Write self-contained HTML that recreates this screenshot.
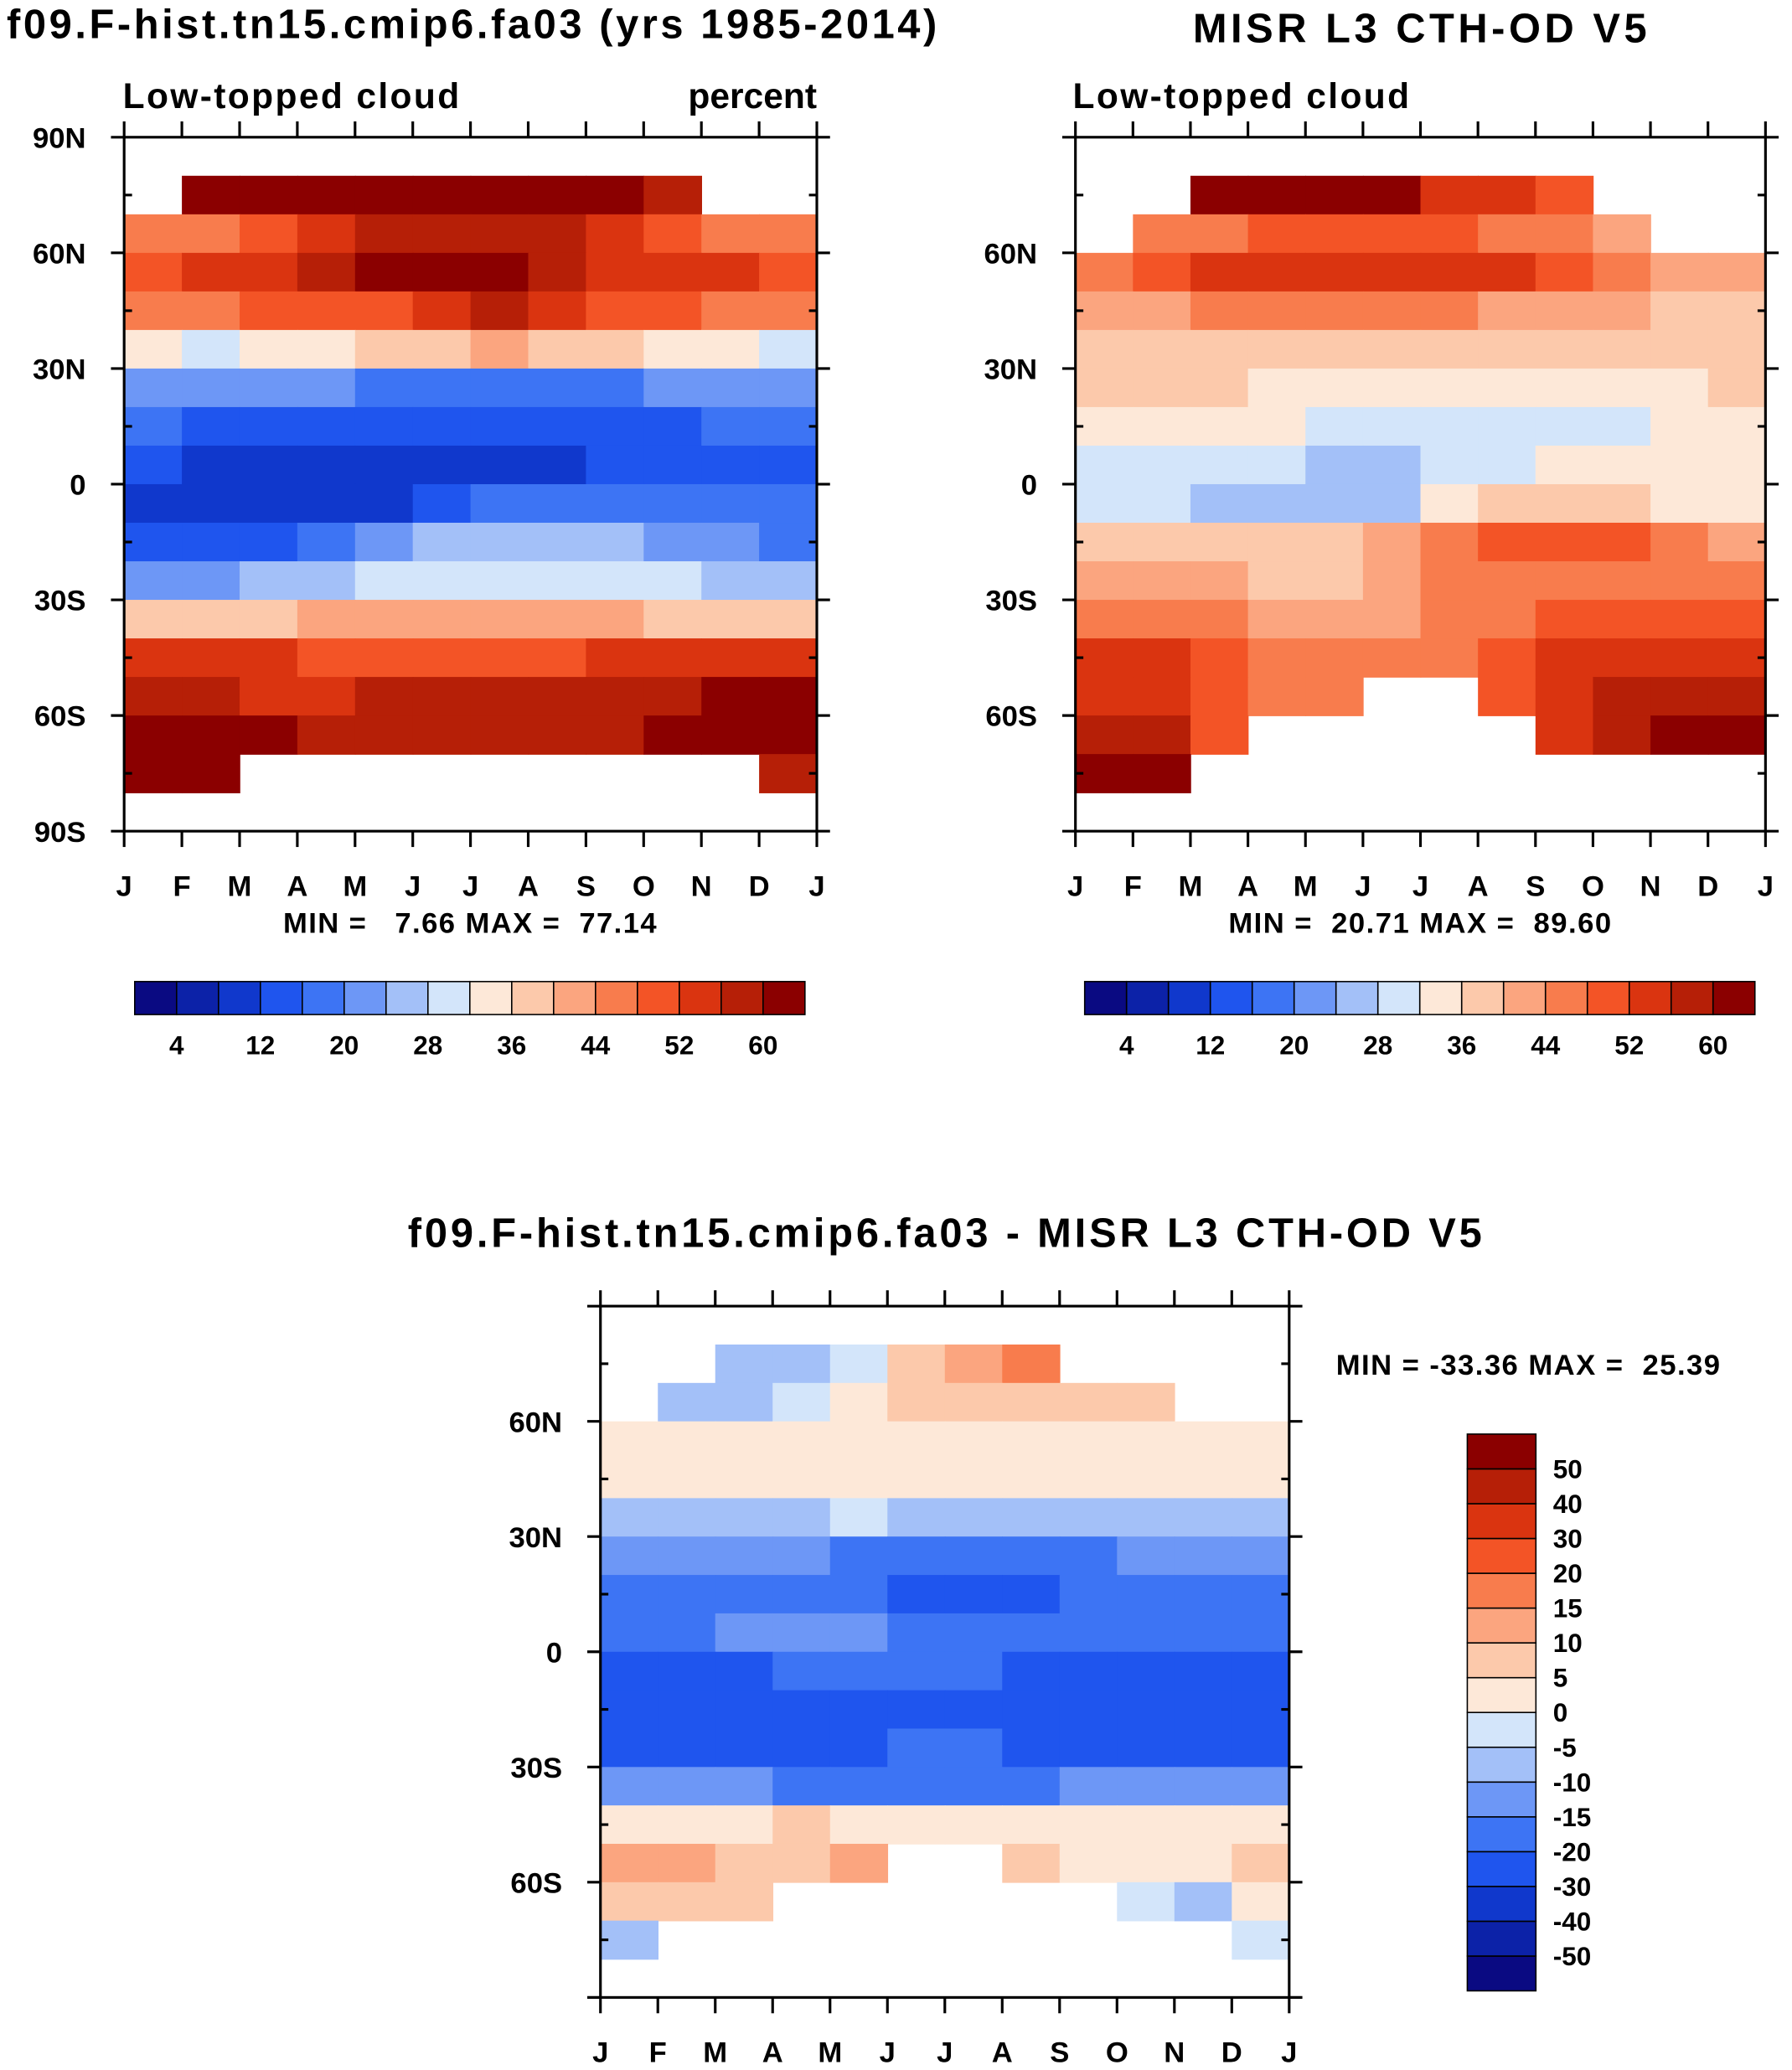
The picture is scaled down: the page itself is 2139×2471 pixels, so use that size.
<!DOCTYPE html>
<html><head><meta charset="utf-8"><style>
html,body{margin:0;padding:0;background:#fff}
svg{display:block;font-family:"Liberation Sans",sans-serif;font-weight:bold}
</style></head><body>
<svg id="fig" width="2139" height="2471" viewBox="0 0 1358 1569">
<text x="5" y="29" font-size="31" textLength="705">f09.F-hist.tn15.cmip6.fa03 (yrs 1985-2014)</text>
<text x="1076" y="32" font-size="31" text-anchor="middle" textLength="344">MISR L3 CTH-OD V5</text>
<text x="716" y="945" font-size="31" text-anchor="middle" textLength="814">f09.F-hist.tn15.cmip6.fa03 - MISR L3 CTH-OD V5</text>
<text x="93" y="82" font-size="27" textLength="255">Low-topped cloud</text>
<text x="619" y="82" font-size="27" text-anchor="end">percent</text>
<text x="813" y="82" font-size="27" textLength="255">Low-topped cloud</text>
<text x="356" y="707" font-size="22" text-anchor="middle" textLength="283" xml:space="preserve">MIN =   7.66 MAX =  77.14</text>
<text x="1076" y="707" font-size="22" text-anchor="middle" textLength="290" xml:space="preserve">MIN =  20.71 MAX =  89.60</text>
<text x="1158" y="1042" font-size="22" text-anchor="middle" textLength="291" xml:space="preserve">MIN = -33.36 MAX =  25.39</text>
</svg>
<script>
const months=["J","F","M","A","M","J","J","A","S","O","N","D","J"];
const lats=[75,65,55,45,35,25,15,5,-5,-15,-25,-35,-45,-55,-65,-75];
const latLabels=["90N","60N","30N","0","30S","60S","90S"];
const N=null;
const modelVals=[
[N,62,64,64,64,64,64,62,62,56,N,N],
[44,46,48,52,56,58,58,56,54,50,46,44],
[50,52,54,56,60,62,62,58,54,52,52,50],
[46,46,48,48,50,52,56,52,50,48,46,46],
[32,30,32,34,36,38,40,38,36,34,32,30],
[22,22,22,20,18,16,16,16,18,20,22,22],
[16,14,14,12,12,12,12,12,14,14,16,16],
[12,10,10,10,10,8,8,10,12,14,14,14],
[10,8,8,8,10,14,16,16,16,16,16,16],
[14,14,14,16,20,24,26,26,24,22,20,18],
[22,22,24,26,28,30,30,30,30,28,26,24],
[36,36,38,40,40,40,40,40,40,38,38,36],
[54,54,52,50,50,50,50,50,52,52,54,54],
[58,56,54,54,56,56,56,56,56,58,60,60],
[64,64,60,58,58,58,58,58,58,60,62,64],
[62,60,N,N,N,N,N,N,N,N,N,56]];
const obsVals=[
[N,N,62,62,62,62,54,54,50,N,N,N],
[N,44,46,48,50,48,48,46,44,42,N,N],
[44,48,52,54,54,54,54,52,48,44,40,40],
[40,42,44,46,46,46,44,42,40,40,38,38],
[38,38,38,38,36,36,36,36,36,36,36,38],
[36,36,36,34,34,34,32,32,32,34,34,36],
[34,34,32,32,30,30,28,28,30,30,32,34],
[30,30,28,28,26,26,28,30,32,32,32,32],
[30,28,26,24,24,26,32,36,36,36,34,34],
[38,38,38,36,36,40,46,50,50,48,44,42],
[40,40,40,38,38,42,46,46,46,46,44,44],
[44,44,44,42,40,40,44,46,48,48,48,48],
[52,52,50,46,44,44,44,48,52,54,54,54],
[54,54,50,46,44,N,N,48,54,56,56,58],
[58,56,50,N,N,N,N,N,52,58,60,62],
[60,60,N,N,N,N,N,N,N,N,N,N]];
const diffVals=[
[N,N,-8,-6,-2,6,12,18,N,N,N,N],
[N,-8,-6,-4,2,6,8,8,6,6,N,N],
[4,2,2,2,2,4,4,4,2,2,2,2],
[2,2,0,0,0,2,2,2,2,2,2,2],
[-8,-8,-8,-6,-4,-6,-6,-8,-8,-8,-8,-8],
[-14,-14,-14,-14,-16,-18,-18,-18,-16,-14,-14,-14],
[-18,-18,-18,-20,-20,-22,-22,-22,-20,-18,-18,-18],
[-18,-18,-12,-12,-14,-18,-18,-18,-18,-18,-18,-18],
[-22,-22,-22,-20,-18,-18,-20,-24,-24,-22,-22,-22],
[-26,-26,-26,-24,-22,-22,-22,-24,-26,-26,-26,-26],
[-22,-24,-24,-22,-22,-20,-20,-24,-26,-26,-24,-22],
[-12,-12,-14,-16,-18,-20,-18,-16,-14,-12,-12,-12],
[4,4,4,6,4,2,2,4,2,2,2,2],
[10,10,8,6,10,N,N,8,2,2,2,8],
[8,6,6,N,N,N,N,N,N,-4,-6,4],
[-6,N,N,N,N,N,N,N,N,N,N,-2]];
const absLevels=[4,8,12,16,20,24,28,32,36,40,44,48,52,56,60];
const absTickLabels=["4","12","20","28","36","44","52","60"];
const diffLevels=[-50,-40,-30,-20,-15,-10,-5,0,5,10,15,20,30,40,50];
const diffTickLabels=["50","40","30","20","15","10","5","0","-5","-10","-15","-20","-30","-40","-50"];
const colors=["#0a0a82","#0c22a8","#1038cc","#1f55ee","#3d74f4","#6d97f6","#a3c0f8","#d3e5fa","#fde8d8","#fcc9ab","#fba57f","#f87c4d","#f35426","#da3410","#b61f07","#8b0000"];
const svg=document.getElementById('fig');
const NS="http://www.w3.org/2000/svg";
function mk(t,a,p){const e=document.createElementNS(NS,t);for(const k in a)e.setAttribute(k,a[k]);(p||svg).appendChild(e);return e;}
function colorIdx(v,lv){let i=0;while(i<lv.length&&v>=lv[i])i++;return i;}
function panel(x0,y0,w,h,vals,lv,name,latLabelsShow){
  const g=mk('g',{});
  
  
  const xs=m=>x0+m*w/12, ys=lat=>y0+(90-lat)/180*h;
  vals.forEach((row,r)=>row.forEach((v,c)=>{if(v===null)return;
    const e=mk('rect',{x:xs(c),y:ys(lats[r]+5),width:w/12+0.5,height:ys(lats[r]-5)-ys(lats[r]+5)+0.5,fill:colors[colorIdx(v,lv)]},g);
    
    }));
  const ax=mk('rect',{x:x0,y:y0,width:w,height:h,fill:'none',stroke:'#000','stroke-width':2},g);
  
  
  for(let m=0;m<=12;m++){const x=xs(m);
    mk('line',{x1:x,x2:x,y1:y0,y2:y0-12,stroke:'#000','stroke-width':2},g);
    mk('line',{x1:x,x2:x,y1:y0+h,y2:y0+h+12,stroke:'#000','stroke-width':2},g);
    const t=mk('text',{x:x,y:y0+h+49,'font-size':22,'text-anchor':'middle'},g);t.textContent=months[m];
    
    }
  for(let lat=-90;lat<=90;lat+=15){const y=ys(lat),maj=lat%30===0;
    mk('line',{x1:x0,x2:x0+(maj?-10:6),y1:y,y2:y,stroke:'#000','stroke-width':2},g);
    mk('line',{x1:x0+w,x2:x0+w+(maj?10:-6),y1:y,y2:y,stroke:'#000','stroke-width':2},g);
    if(maj){const idx=(90-lat)/30;if(latLabelsShow.includes(idx)){
      const t=mk('text',{x:x0-29,y:y+8,'font-size':22,'text-anchor':'end'},g);t.textContent=latLabels[idx];
      
      }}}
}
panel(94,104,525,526,modelVals,absLevels,'model-panel',[0,1,2,3,4,5,6]);
panel(815,104,523,526,obsVals,absLevels,'obs-panel',[1,2,3,4,5]);
panel(455,990,522,524,diffVals,diffLevels,'diff-panel',[1,2,3,4,5]);
function hbar(x0,y0,w,h,name){
  const g=mk('g',{});
  
  
  const bw=w/16;
  colors.forEach((c,i)=>{const r=mk('rect',{x:x0+i*bw,y:y0,width:bw,height:h,fill:c,stroke:'#000','stroke-width':1},g);
    
    });
  absTickLabels.forEach((l,i)=>{const t=mk('text',{x:x0+(2*i+1)*bw,y:y0+h+30,'font-size':20,'text-anchor':'middle'},g);t.textContent=l;
    
    });
}
hbar(102,744,508,25,'model-colorbar');
hbar(822,744,508,25,'obs-colorbar');
(function(){
  const x0=1112,y0=1087,w=52,h=422,bh=h/16;
  const g=mk('g',{});
  
  
  colors.forEach((c,i)=>{const r=mk('rect',{x:x0,y:y0+(15-i)*bh,width:w,height:bh,fill:c,stroke:'#000','stroke-width':1},g);
    
    });
  diffTickLabels.forEach((l,i)=>{const t=mk('text',{x:x0+w+13,y:y0+(i+1)*bh+7,'font-size':20},g);t.textContent=l;
    
    });
})();
</script>
</body></html>
